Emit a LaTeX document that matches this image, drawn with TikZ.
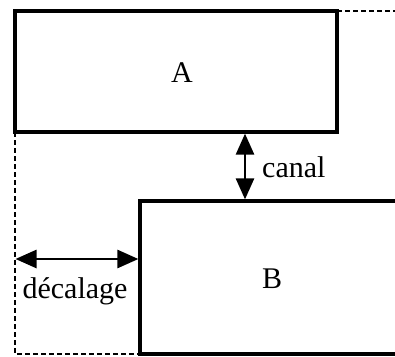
\documentclass[tikz,border=0pt]{standalone}
\usepackage{fontspec}
\setmainfont{Liberation Serif}
\usetikzlibrary{arrows.meta}
\begin{document}
\begin{tikzpicture}[x=1pt,y=-1pt,
  solidline/.style={line width=3.2pt},
  dashline/.style={line width=2.4pt, dash pattern=on 5pt off 3pt},
  dimarrow/.style={line width=2.6pt, {Triangle[length=21pt,width=18pt]}-{Triangle[length=21pt,width=18pt]}},
  lbl/.style={font=\fontsize{30}{34}\selectfont, inner sep=0pt}]
\useasboundingbox (0,0) rectangle (395,356);
% corners
\coordinate (Atl) at (15,11);
\coordinate (Atr) at (337,11);
\coordinate (Abr) at (337,132);
\coordinate (Abl) at (15,132);
\coordinate (Aext) at (395,11);
\coordinate (Btl) at (140,201);
\coordinate (Btr) at (395,201);
\coordinate (Bbl) at (140,354);
\coordinate (Bbr) at (395,354);
\coordinate (Dbl) at (15,354);
% box A
\draw[solidline] (Atl) -- (Atr) -- (Abr) -- (Abl) -- cycle;
\draw[dashline] (Atr) -- (Aext);
% box B (open to the right)
\draw[solidline] (Btr) -- (Btl) -- (Bbl) -- (Bbr);
% dashed shifted outline
\draw[dashline] (Abl) -- (Dbl) -- (Bbl);
% dimension arrows
\coordinate (c1) at (245,133.6);
\coordinate (c2) at (245,199.4);
\draw[dimarrow] (c1) -- (c2);
\coordinate (d1) at (15.5,259);
\coordinate (d2) at (138.4,259);
\draw[dimarrow] (d1) -- (d2);
% labels
\node[lbl, anchor=base] (la) at (182,82) {A};
\node[lbl, anchor=base] (lb) at (272,288) {B};
\node[lbl, anchor=base west] (lc) at (262,177) {canal};
\node[lbl, anchor=base] (ld) at (75,298) {décalage};
\end{tikzpicture}
\end{document}
